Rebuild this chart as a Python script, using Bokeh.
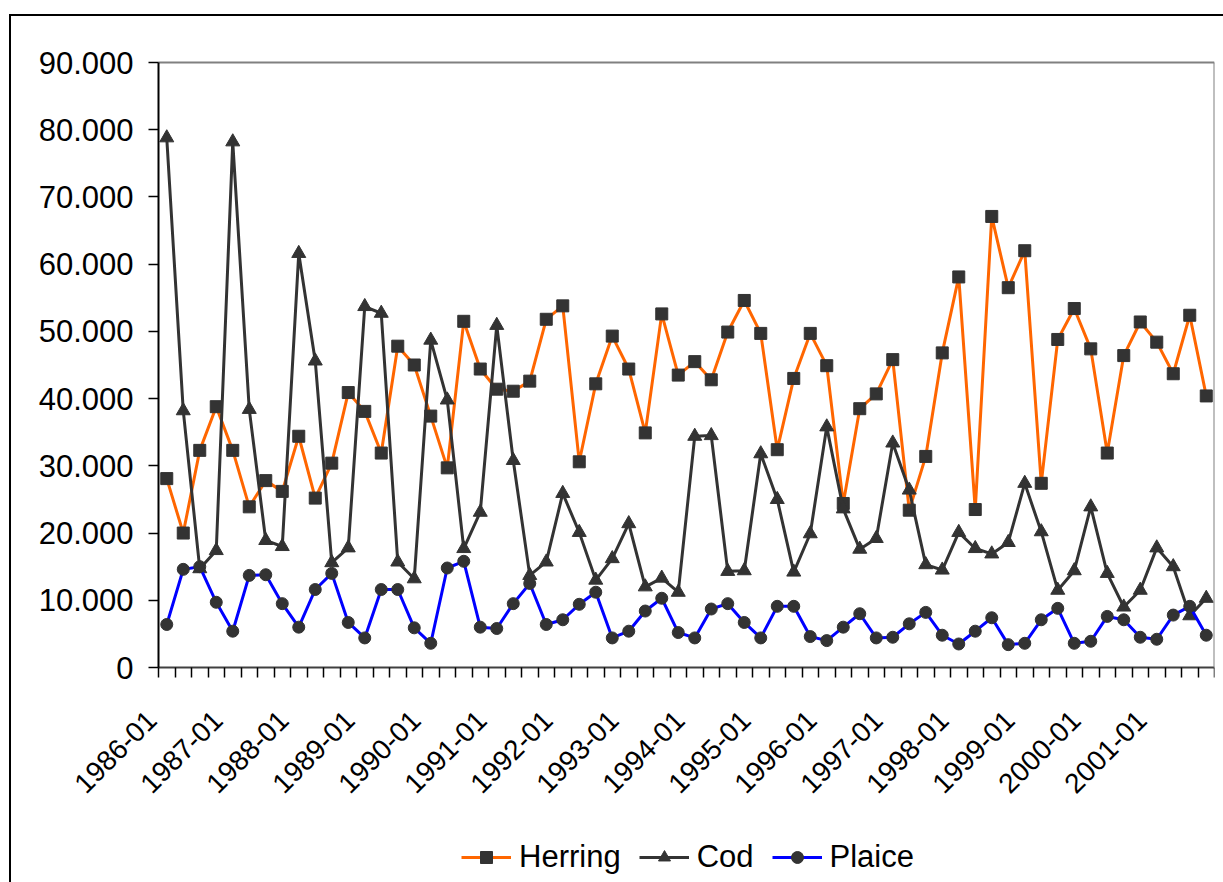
from bokeh.plotting import figure
from bokeh.models import (FixedTicker, Legend, LegendItem, ColumnDataSource,
                          InlineStyleSheet, LinearAxis)
from bokeh.embed import file_html
from bokeh.resources import INLINE

# ---- data (thousand tonnes, quarterly 1986Q1 .. 2001Q4) ----
tick_labels = ["1986-01", "1987-01", "1988-01", "1989-01", "1990-01", "1991-01",
               "1992-01", "1993-01", "1994-01", "1995-01", "1996-01", "1997-01",
               "1998-01", "1999-01", "2000-01", "2001-01"]

herring = [28.1, 20.0, 32.3, 38.8, 32.3, 23.9, 27.8, 26.2, 34.4, 25.2,
           30.4, 40.9, 38.1, 31.9, 47.8, 45.0, 37.4, 29.7, 51.5, 44.4,
           41.4, 41.1, 42.6, 51.8, 53.8, 30.6, 42.2, 49.3, 44.4, 34.9,
           52.6, 43.5, 45.5, 42.8, 49.9, 54.6, 49.7, 32.4, 43.0, 49.7,
           44.9, 24.4, 38.5, 40.7, 45.8, 23.4, 31.4, 46.8, 58.1, 23.5,
           67.1, 56.5, 62.0, 27.4, 48.8, 53.4, 47.4, 31.9, 46.4, 51.4,
           48.4, 43.7, 52.4, 40.4]

cod = [78.8, 38.2, 14.7, 17.4, 78.2, 38.4, 18.9, 18.0, 61.6, 45.6,
       15.6, 17.8, 53.7, 52.7, 15.7, 13.2, 48.7, 39.8, 17.7, 23.1,
       50.9, 30.8, 13.7, 15.7, 25.9, 20.1, 13.0, 16.2, 21.4, 12.0,
       13.3, 11.2, 34.4, 34.5, 14.3, 14.4, 31.8, 25.0, 14.2, 19.9,
       35.8, 23.6, 17.6, 19.2, 33.4, 26.4, 15.3, 14.5, 20.1, 17.7,
       16.9, 18.6, 27.4, 20.2, 11.5, 14.4, 23.9, 14.0, 9.0, 11.5,
       17.8, 15.0, 7.7, 10.3]

plaice = [6.4, 14.6, 15.0, 9.7, 5.4, 13.7, 13.8, 9.5, 6.0, 11.6,
          14.0, 6.7, 4.4, 11.6, 11.6, 5.9, 3.6, 14.8, 15.8, 6.0,
          5.8, 9.5, 12.5, 6.4, 7.1, 9.4, 11.2, 4.4, 5.4, 8.4,
          10.3, 5.2, 4.4, 8.7, 9.5, 6.7, 4.4, 9.1, 9.1, 4.6,
          4.0, 6.0, 8.0, 4.4, 4.5, 6.5, 8.2, 4.8, 3.5, 5.4,
          7.4, 3.4, 3.6, 7.1, 8.8, 3.6, 3.9, 7.6, 7.1, 4.5,
          4.2, 7.8, 9.1, 4.8]

y_ticks = [0, 10, 20, 30, 40, 50, 60, 70, 80, 90]
y_tick_labels = ["0", "10.000", "20.000", "30.000", "40.000", "50.000",
                 "60.000", "70.000", "80.000", "90.000"]

n = len(herring)
SHIFT = 0.9   # label anchor offset (category units)
x = [i + SHIFT for i in range(n)]
src = ColumnDataSource(dict(x=x, herring=herring, cod=cod, plaice=plaice))

FONT = "Liberation Sans"

css = InlineStyleSheet(css="""
:host::after {
  content: "";
  position: absolute;
  left: 9px; top: 14px; right: 0px; bottom: 0px;
  border-left: 2px solid black;
  border-top: 2px solid black;
  pointer-events: none;
}
""")

# the frame covers the whole chart box so that axis labels and legend
# (drawn inside the frame) are not clipped
FW = 1205
PX_PER_CAT = 16.5
X0 = -0.5 + SHIFT          # left edge of the category area
X1 = n - 0.5 + SHIFT       # right edge of the category area
PX_PER_Y = 605 / 90.0
FRAME_TOP = 16
FH = 882 - FRAME_TOP
YMIN = -215 / PX_PER_Y
YTOP = 90 + (62 - FRAME_TOP) / PX_PER_Y
p = figure(frame_width=FW, frame_height=FH,
           output_backend="svg", toolbar_location=None,
           x_range=(X1 - FW / PX_PER_CAT, X1), y_range=(YMIN, YTOP),
           min_border_left=9, min_border_right=9, min_border_top=FRAME_TOP,
           min_border_bottom=0, stylesheets=[css])
p.background_fill_color = "white"
p.border_fill_color = "white"
p.outline_line_color = None
p.xgrid.visible = False
p.ygrid.visible = False

xa = p.below[0]
ya = p.left[0]

# plot-area border (top and right), grey
top_ax = LinearAxis(ticker=FixedTicker(ticks=[]), axis_line_color="#808080",
                    axis_line_width=2, major_tick_line_color=None,
                    minor_tick_line_color=None, bounds=(X0, X1),
                    fixed_location=90)
p.add_layout(top_ax, "above")
right_ax = LinearAxis(ticker=FixedTicker(ticks=[]), axis_line_color="#808080",
                      axis_line_width=2, major_tick_line_color=None,
                      minor_tick_line_color=None, bounds=(0, 90),
                      fixed_location=X1)
p.add_layout(right_ax, "right")

# y axis at the left edge of the category area
ya.fixed_location = X0
ya.ticker = FixedTicker(ticks=y_ticks, minor_ticks=[])
ya.bounds = (0, 90)
ya.major_label_overrides = {t: l for t, l in zip(y_ticks, y_tick_labels)}
ya.major_tick_in = 0
ya.major_tick_out = 10
ya.minor_tick_line_color = None
ya.axis_line_color = "black"
ya.axis_line_width = 2
ya.major_tick_line_color = "black"
ya.major_tick_line_width = 1.5
ya.major_label_standoff = 15
ya.major_label_text_font = FONT
ya.major_label_text_font_size = "31px"
ya.major_label_text_color = "black"

# x axis (category axis at y = 0)
label_ticks = list(range(0, n, 4))
xa.fixed_location = 0
xa.bounds = (X0, X1)
xa.ticker = FixedTicker(ticks=label_ticks,
                        minor_ticks=[i - 0.5 + SHIFT for i in range(n + 1)])
xa.major_label_overrides = {t: l for t, l in zip(label_ticks, tick_labels)}
xa.major_tick_line_color = None
xa.minor_tick_in = 0
xa.minor_tick_out = 10
xa.minor_tick_line_color = "black"
xa.minor_tick_line_width = 1.5
xa.axis_line_color = "#404040"
xa.axis_line_width = 2
xa.major_label_orientation = 0.785398
xa.major_label_standoff = 38
xa.major_label_text_font = FONT
xa.major_label_text_font_size = "28px"
xa.major_label_text_color = "black"

MK = "#333333"
lh = p.line("x", "herring", source=src, line_color="#FF6600", line_width=3)
sh = p.scatter("x", "herring", source=src, marker="square", size=12,
               fill_color=MK, line_color=MK)
lc = p.line("x", "cod", source=src, line_color="#333333", line_width=3)
sc = p.scatter("x", "cod", source=src, marker="triangle", size=14,
               fill_color=MK, line_color=MK)
lp = p.line("x", "plaice", source=src, line_color="#0000FF", line_width=3)
spp = p.scatter("x", "plaice", source=src, marker="circle", size=12,
                fill_color=MK, line_color=MK)

legend = Legend(items=[LegendItem(label="Herring", renderers=[lh, sh]),
                       LegendItem(label="Cod", renderers=[lc, sc]),
                       LegendItem(label="Plaice", renderers=[lp, spp])],
                orientation="horizontal", location=(452, 7),
                label_text_font=FONT, label_text_font_size="31px",
                label_text_color="black",
                glyph_width=50, glyph_height=30, label_height=30,
                label_standoff=8, spacing=18, padding=0, margin=0,
                border_line_color=None, background_fill_alpha=0)
p.add_layout(legend, "center")

open("out.html", "w").write(file_html(p, INLINE))
